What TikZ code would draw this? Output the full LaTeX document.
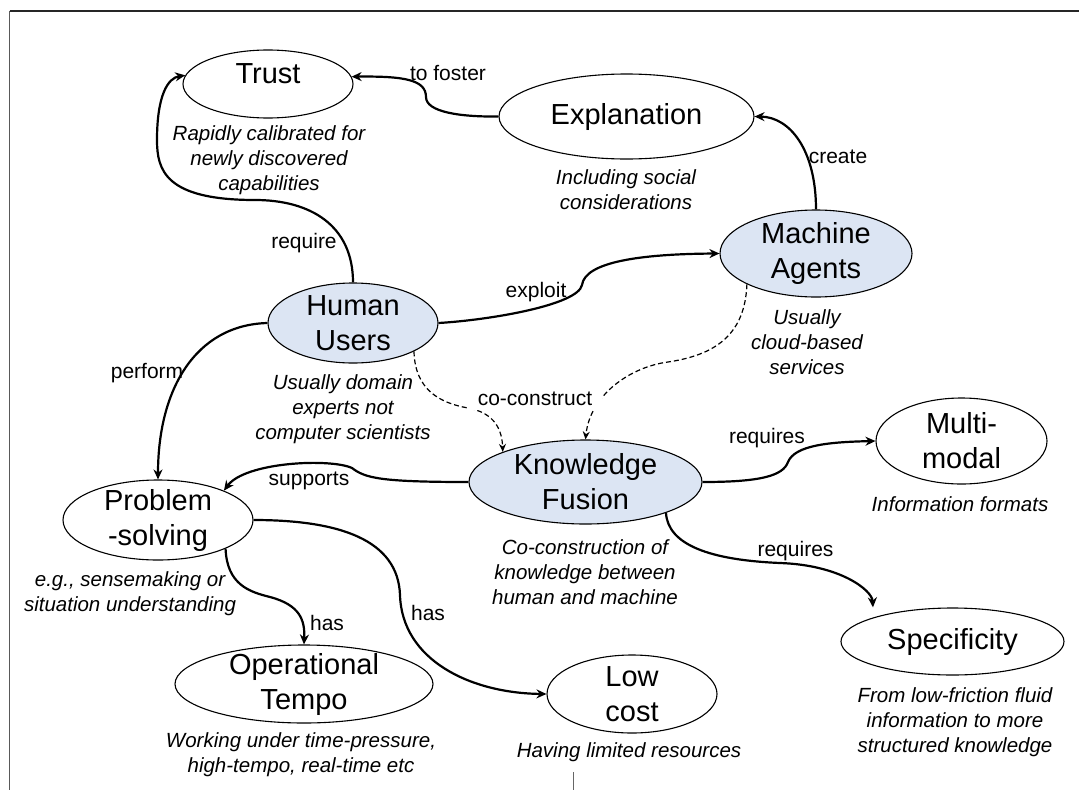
\documentclass[tikz,border=0pt]{standalone}
\usepackage{fontspec}
\setmainfont{Liberation Sans}
\usetikzlibrary{arrows.meta,shapes.geometric}
\definecolor{conceptblue}{RGB}{220,229,243}
\begin{document}
\begin{tikzpicture}[x=1pt,y=-1pt,
  concept/.style 2 args={ellipse, draw, line width=1.1pt, fill=white,
    minimum width=#1, minimum height=#2, inner sep=0pt},
  core/.style={fill=conceptblue},
  nodetext/.style={font=\fontsize{29}{35}\selectfont, align=center, inner sep=0pt},
  desc/.style={font=\fontsize{20.5}{25}\selectfont\itshape, align=center,
    inner sep=0pt, anchor=north},
  elabel/.style={font=\fontsize{21}{25}\selectfont, inner sep=1pt},
  link/.style={line width=2.2pt, -{Stealth[length=10pt,width=9pt]}},
  dlink/.style={line width=1.2pt, dash pattern=on 5pt off 3pt,
    -{Stealth[length=8pt,width=7pt]}}]
\useasboundingbox (0,0) rectangle (1079,790);

% frame
\draw[line width=1.5pt, black!85] (9.5,11) -- (1079,11);
\draw[line width=1.3pt, black!65] (9.5,11) -- (9.5,790);
\draw[line width=1pt, black!60] (573,772) -- (573,790);

% concepts
\node[concept={170pt}{68pt}, label={[nodetext,yshift=10pt]center:Trust}] (trust) at (268,84) {};
\node[concept={255pt}{85pt}, label={[nodetext]center:Explanation}] (expl) at (626.5,116.5) {};
\node[concept={192pt}{87pt}, core, label={[nodetext]center:{Machine\\Agents}}] (mach) at (816,253.5) {};
\node[concept={170pt}{80pt}, core, label={[nodetext]center:{Human\\Users}}] (hum) at (353,323) {};
\node[concept={233pt}{84pt}, core, label={[nodetext]center:{Knowledge\\Fusion}}] (kno) at (585.5,482) {};
\node[concept={190pt}{80pt}, label={[nodetext]center:{Problem\\-solving}}] (prob) at (158,520) {};
\node[concept={171pt}{86pt}, label={[nodetext]center:{Multi-\\modal}}] (multi) at (961.5,441) {};
\node[concept={223pt}{67pt}, label={[nodetext]center:Specificity}] (spec) at (952.5,641.5) {};
\node[concept={258pt}{78pt}, label={[nodetext]center:{Operational\\Tempo}}] (op) at (304,684) {};
\node[concept={170pt}{78pt}, label={[nodetext]center:{Low\\cost}}] (low) at (632,694) {};

% descriptions
\node[desc] (trustd) at (269,125) {Rapidly calibrated for\\newly discovered\\capabilities};
\node[desc] (expld) at (626,169) {Including social\\considerations};
\node[desc] (machd) at (807,309) {Usually\\cloud-based\\services};
\node[desc] (humd) at (343,374) {Usually domain\\experts not\\computer scientists};
\node[desc] (knod) at (585,539) {Co-construction of\\knowledge between\\human and machine};
\node[desc] (multid) at (960,496) {Information formats};
\node[desc] (probd) at (130,571) {e.g., sensemaking or\\situation understanding};
\node[desc] (opd) at (301,732) {Working under time-pressure,\\high-tempo, real-time etc};
\node[desc] (lowd) at (629,742) {Having limited resources};
\node[desc] (specd) at (955,687) {From low-friction fluid\\information to more\\structured knowledge};

% relations
\draw[link] (expl.west) .. controls (460,117) and (426,112) .. (426,97)
  .. controls (426,80) and (405,76) .. (trust.5);
\node[elabel] (lfoster) at (448,73.5) {to foster};

\draw[link] (hum.north) .. controls (353,225) and (310,200) .. (255,200)
  .. controls (165,200) and (157,170) .. (157,140)
  .. controls (157,95) and (168,78) .. (trust.174);
\node[elabel] (lrequire) at (304,243) {require};

\draw[link] (mach.north) .. controls (816,150) and (790,117) .. (expl.east);
\node[elabel] (lcreate) at (838,157) {create};

\draw[link] (hum.east) .. controls (490,320) and (578,305) .. (582,285)
  .. controls (585,262) and (640,254) .. (mach.west);
\node[elabel] (lexploit) at (536,292) {exploit};

\draw[link] (hum.west) .. controls (195,325) and (158,390) .. (prob.north);
\node[elabel] (lperform) at (147,373) {perform};

\draw[link] (kno.west) .. controls (380,482) and (365,478) .. (352,468)
  .. controls (330,458) and (245,462) .. (prob.24);
\node[elabel] (lsupports) at (309,481) {supports};

\draw[link] (prob.-23) .. controls (227,585) and (250,592) .. (270,597)
  .. controls (300,605) and (305,620) .. (op.north);
\node[elabel] (lhas1) at (327,623) {has};

\draw[link] (prob.east) .. controls (340,520) and (398,540) .. (400,595)
  .. controls (402,660) and (470,693) .. (low.west);
\node[elabel] (lhas2) at (428,613) {has};

\draw[link] (kno.east) .. controls (760,482) and (783,476) .. (788,462)
  .. controls (795,445) and (830,442) .. (multi.west);
\node[elabel] (lreq1) at (767,438) {requires};

\draw[link, shorten >=10pt] (kno.-21) .. controls (668,545) and (710,560) .. (780,563)
  .. controls (840,565) and (872,590) .. (spec.163);
\node[elabel] (lreq2) at (795.5,551) {requires};

% co-construction
\draw[dlink] (hum.-25) .. controls (415,390) and (440,403) .. (468,408)
  .. controls (495,413) and (502,430) .. (kno.160);
\draw[dlink] (mach.-156) .. controls (745,335) and (715,355) .. (668,362)
  .. controls (630,367) and (590,395) .. (kno.north);
\node[elabel, fill=white, inner xsep=10pt, inner ysep=4pt] (lco) at (535,399) {co-construct};
\end{tikzpicture}
\end{document}
